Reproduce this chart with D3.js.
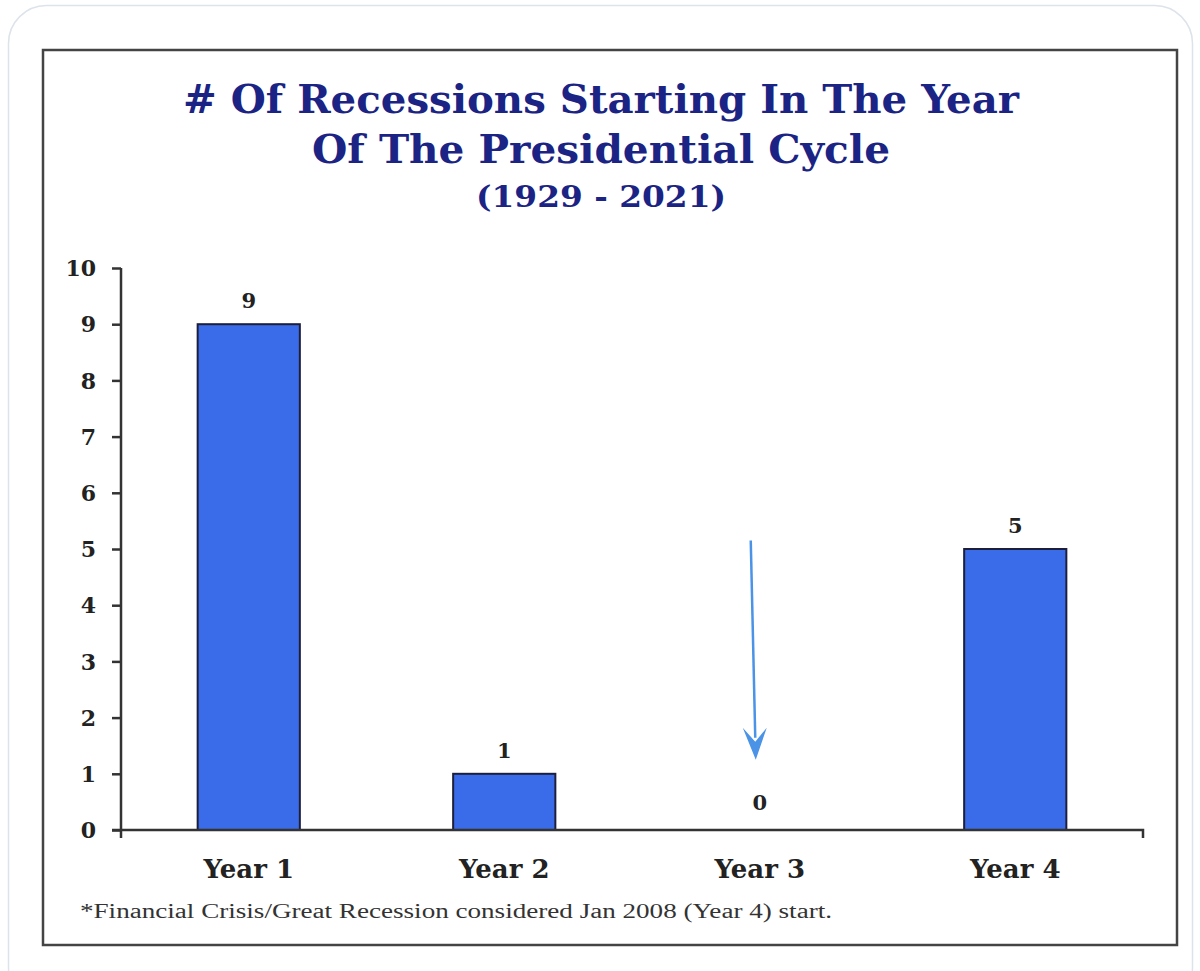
<!DOCTYPE html>
<html><head><meta charset="utf-8">
<script src="https://cdn.jsdelivr.net/npm/d3@7"></script>
<style>
html,body{margin:0;padding:0;background:#fff;}
svg{display:block;}
</style></head>
<body>
<svg id="c" width="1200" height="971"></svg>
<script>
const categories = ["Year 1", "Year 2", "Year 3", "Year 4"];
const values = [9, 1, 0, 5];
const yTicks = [0, 1, 2, 3, 4, 5, 6, 7, 8, 9, 10];
const titleLines = ["# Of Recessions Starting In The Year", "Of The Presidential Cycle", "(1929 - 2021)"];
const footnote = "*Financial Crisis/Great Recession considered Jan 2008 (Year 4) start.";
const arrowCategory = "Year 3";
const arrowFromTo = [5.15, 1.25];

const svg = d3.select("#c");
const serif = "'DejaVu Serif', 'Liberation Serif', serif";
const condSerif = "'DejaVu Serif Condensed', 'DejaVu Serif', serif";
const navy = "#1b2484";

// outer card
svg.append("rect").attr("x", 8.5).attr("y", 5.5).attr("width", 1184).attr("height", 1000)
  .attr("rx", 38).attr("fill", "#fff").attr("stroke", "#dde3ea").attr("stroke-width", 1.5);
// inner frame
svg.append("rect").attr("x", 43).attr("y", 50).attr("width", 1134).attr("height", 895)
  .attr("fill", "#fff").attr("stroke", "#444").attr("stroke-width", 2.5);

// title
const tl = [
  {t: titleLines[0], y: 113, s: 39, w: 836},
  {t: titleLines[1], y: 163, s: 39, w: 578},
  {t: titleLines[2], y: 207, s: 30, w: 250}
];
svg.selectAll("text.title").data(tl).enter().append("text")
  .attr("class", "title")
  .attr("x", 601).attr("y", d => d.y)
  .attr("text-anchor", "middle")
  .attr("font-family", condSerif).attr("font-weight", "bold")
  .attr("font-size", d => d.s)
  .attr("fill", navy)
  .attr("textLength", d => d.w)
  .attr("lengthAdjust", "spacingAndGlyphs")
  .text(d => d.t);

const x = d3.scaleBand().domain(categories).range([121, 1143]).paddingInner(0.6).paddingOuter(0.3);
const y = d3.scaleLinear().domain([0, 10]).range([830, 268]);

// bars
svg.selectAll("rect.bar").data(categories.map((c, i) => ({c, v: values[i]})).filter(d => d.v > 0))
  .enter().append("rect").attr("class", "bar")
  .attr("x", d => x(d.c)).attr("width", x.bandwidth())
  .attr("y", d => y(d.v)).attr("height", d => y(0) - y(d.v))
  .attr("fill", "#3a6be9").attr("stroke", "#1c1f3c").attr("stroke-width", 2);

// y axis
const yAxis = svg.append("g").attr("transform", "translate(121,0)")
  .call(d3.axisLeft(y).tickValues(yTicks).tickSize(9).tickPadding(16).tickSizeOuter(0));
yAxis.select(".domain").attr("stroke", "#333").attr("stroke-width", 2.5)
  .attr("d", `M0,${y(10)}V${y(0) + 8}`);
yAxis.selectAll(".tick line").attr("stroke", "#333").attr("stroke-width", 2.5);
yAxis.selectAll(".tick text").attr("font-family", serif).attr("font-weight", "bold")
  .attr("font-size", 22).attr("fill", "#222").attr("dy", "0.35em");

// x axis
const xAxis = svg.append("g").attr("transform", `translate(0,${y(0)})`)
  .call(d3.axisBottom(x).tickSize(0).tickPadding(30));
xAxis.select(".domain").attr("stroke", "#333").attr("stroke-width", 2.5)
  .attr("d", `M112,0H1143V8`);
xAxis.selectAll(".tick text").attr("font-family", serif).attr("font-weight", "bold")
  .attr("font-size", 26).attr("fill", "#222");

// value labels
svg.selectAll("text.val").data(categories.map((c, i) => ({c, v: values[i]})))
  .enter().append("text").attr("class", "val")
  .attr("x", d => x(d.c) + x.bandwidth() / 2)
  .attr("y", d => d.v > 0 ? y(d.v) - 16 : y(0) - 20)
  .attr("text-anchor", "middle")
  .attr("font-family", serif).attr("font-weight", "bold")
  .attr("font-size", 21).attr("fill", "#222")
  .text(d => d.v);

// arrow (annotation at Year 3)
const ax = x(arrowCategory) + x.bandwidth() / 2;
const tipY = y(arrowFromTo[1]);
svg.append("line")
  .attr("x1", ax - 9).attr("y1", y(arrowFromTo[0]))
  .attr("x2", ax - 4.5).attr("y2", tipY - 22)
  .attr("stroke", "#4a93e6").attr("stroke-width", 2.5);
svg.append("path")
  .attr("d", d3.line()([[ax - 17, tipY - 32], [ax - 4.5, tipY - 18], [ax + 7, tipY - 32], [ax - 4, tipY]]) + "Z")
  .attr("fill", "#4a93e6");

// footnote
svg.append("text").attr("x", 80).attr("y", 918)
  .attr("font-family", "'Liberation Serif', 'Times New Roman', serif").attr("font-size", 20).attr("fill", "#333")
  .attr("textLength", 752).attr("lengthAdjust", "spacingAndGlyphs")
  .text(footnote);
</script>
</body></html>
